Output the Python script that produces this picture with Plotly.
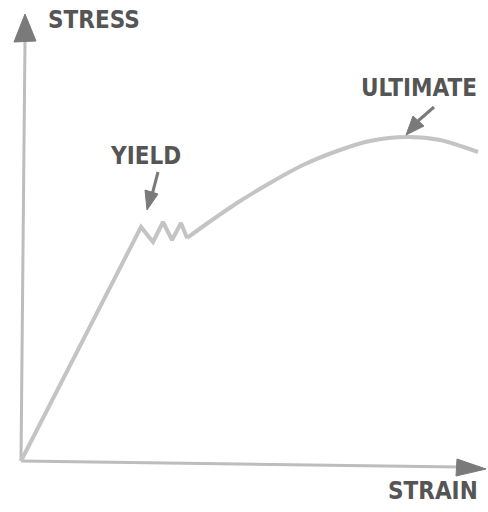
import plotly.graph_objects as go

# Stress-strain curve values (arbitrary units)
elastic_strain = [0, 120, 132, 142, 151, 160, 166]
elastic_stress = [0, 234, 219, 239, 221, 238, 223]
plastic_strain = [166, 184, 216, 249, 282, 319, 349, 386, 419, 457]
plastic_stress = [223, 236, 258, 278, 296, 311, 320, 324, 321, 309]

axis_labels = ["STRESS", "STRAIN"]
point_labels = ["YIELD", "ULTIMATE"]

X0, Y0 = 21, 461  # pixel position of origin
def P(px, py):
    return px - X0, Y0 - py

curve_color = "#c4c4c4"
axis_color = "#bdbdbd"
head_color = "#7a7a7a"
text_color = "#555555"
font = dict(family="Liberation Sans Narrow, DejaVu Sans Condensed, Roboto, sans-serif",
            size=24, color=text_color, weight="bold")

fig = go.Figure()
fig.add_trace(go.Scatter(x=elastic_strain, y=elastic_stress, mode="lines",
                         line=dict(color=curve_color, width=4), hoverinfo="skip"))
fig.add_trace(go.Scatter(x=plastic_strain, y=plastic_stress, mode="lines",
                         line=dict(color=curve_color, width=4, shape="spline", smoothing=0.8),
                         hoverinfo="skip"))

shapes = []
def seg(a, b, color, w):
    (x1, y1), (x2, y2) = P(*a), P(*b)
    shapes.append(dict(type="line", x0=x1, y0=y1, x1=x2, y1=y2, xref="x", yref="y",
                       line=dict(color=color, width=w), layer="below"))
def tri(pts, color):
    pp = [P(*p) for p in pts]
    path = "M " + " L ".join(f"{x},{y}" for x, y in pp) + " Z"
    shapes.append(dict(type="path", path=path, xref="x", yref="y",
                       fillcolor=color, line=dict(color=color, width=1)))

# axes
seg((21, 461), (25, 40), axis_color, 3)
seg((21, 461), (460, 467), axis_color, 3)
tri([(25, 14), (14, 42), (36, 41)], head_color)
tri([(486, 469), (457, 459), (456, 476)], head_color)
# yield arrow
seg((158, 172), (152, 195), head_color, 3)
tri([(147, 210), (145, 190), (158, 194)], head_color)
# ultimate arrow
seg((434, 107), (418, 121), head_color, 3)
tri([(406, 135), (413, 116), (424, 126)], head_color)

fig.update_layout(shapes=shapes)

annotations = [
    dict(text=axis_labels[0], x=P(94, 20)[0], y=P(94, 20)[1]),
    dict(text=axis_labels[1], x=P(433, 491)[0], y=P(433, 491)[1]),
    dict(text=point_labels[0], x=P(145, 156)[0], y=P(145, 156)[1]),
    dict(text=point_labels[1], x=P(419, 88)[0], y=P(419, 88)[1]),
]
for a in annotations:
    a.update(xref="x", yref="y", showarrow=False, font=font, xanchor="center", yanchor="middle")
fig.update_layout(annotations=annotations)

fig.update_layout(
    width=488, height=512,
    margin=dict(l=0, r=0, t=0, b=0),
    paper_bgcolor="white", plot_bgcolor="white",
    showlegend=False,
    xaxis=dict(range=[-X0, 488 - X0], visible=False, fixedrange=True),
    yaxis=dict(range=[Y0 - 512, Y0], visible=False, fixedrange=True),
)
fig.write_html("out.html", config={"displayModeBar": False},
               post_script="document.body.style.margin='0';document.body.style.overflow='hidden';")
